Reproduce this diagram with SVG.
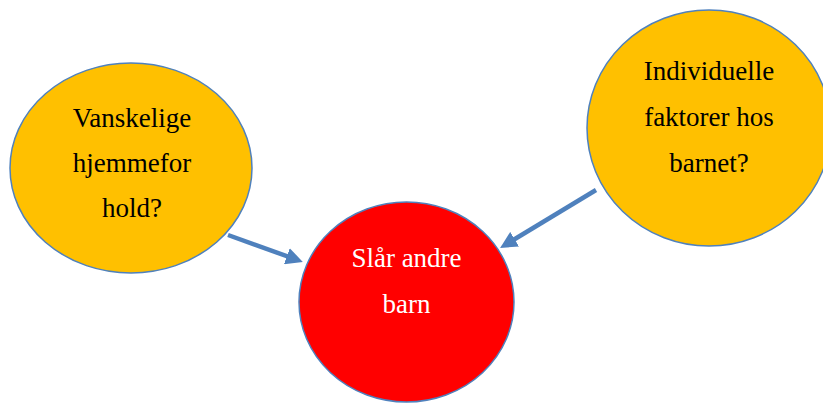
<svg xmlns="http://www.w3.org/2000/svg" width="823" height="403" viewBox="0 0 823 403">
<style>
.node ellipse{stroke:#4F81BD;stroke-width:1.5}
.t{font-family:"Liberation Serif","Times New Roman",serif;font-size:27px;text-anchor:middle}
.conn line{stroke:#4F81BD;stroke-width:4.5}
</style>
<defs>
<marker id="ah" markerUnits="userSpaceOnUse" markerWidth="19" markerHeight="17" refX="6" refY="8.5" orient="auto">
<path d="M0,0 L17,8.5 L0,17 z" fill="#4F81BD"/>
</marker>
</defs>
<rect width="823" height="403" fill="#fff"/>
<g id="n-vanskelige" class="node">
<ellipse cx="131" cy="168" rx="121" ry="105" fill="#FFC000"/>
<text class="t" x="132" y="127">Vanskelige</text>
<text class="t" x="132" y="172">hjemmefor</text>
<text class="t" x="132" y="217">hold?</text>
</g>
<g id="n-individuelle" class="node">
<ellipse cx="709" cy="128" rx="122" ry="118" fill="#FFC000"/>
<text class="t" x="709" y="80">Individuelle</text>
<text class="t" x="709" y="126">faktorer hos</text>
<text class="t" x="709" y="172">barnet?</text>
</g>
<g id="n-slaar" class="node">
<ellipse cx="406.5" cy="302" rx="107.5" ry="100" fill="#FF0000"/>
<text class="t" x="406.5" y="267" fill="#fff">Slår andre</text>
<text class="t" x="406.5" y="313" fill="#fff">barn</text>
</g>
<g id="connectors" class="conn">
<line x1="228" y1="235" x2="292.5" y2="258.2" marker-end="url(#ah)"/>
<line x1="596" y1="190" x2="509.5" y2="242.3" marker-end="url(#ah)"/>
</g>
</svg>
